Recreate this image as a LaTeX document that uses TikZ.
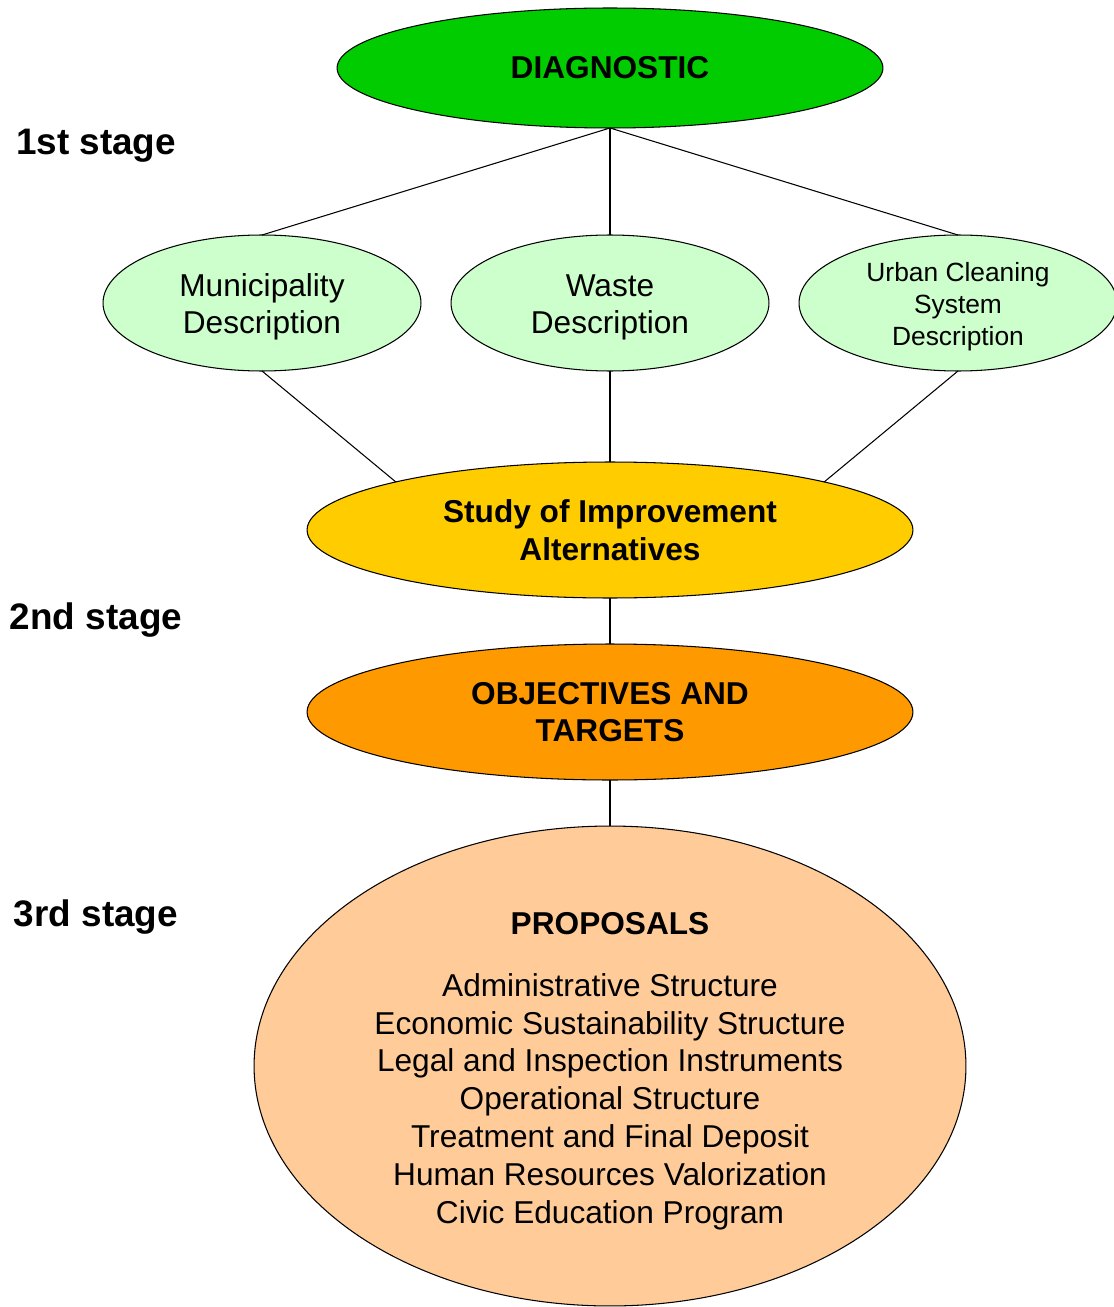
\documentclass[tikz,border=0pt]{standalone}
\usepackage{fontspec}
\setmainfont{Liberation Sans}
\usetikzlibrary{shapes.geometric}
\definecolor{diaggreen}{HTML}{00CC00}
\definecolor{descgreen}{HTML}{CCFFCC}
\definecolor{studyyellow}{HTML}{FFCC00}
\definecolor{objorange}{HTML}{FF9900}
\definecolor{proppeach}{HTML}{FFCC99}
\newcommand\txtlift[1][17.5pt]{\rule{0pt}{#1}}
\tikzset{
  stage/.style={draw=none,rectangle,font=\fontsize{21}{25}\selectfont\bfseries},
  desc/.style={fill=descgreen,minimum width=6.36cm,minimum height=2.72cm},
  wide/.style={minimum width=12.12cm,minimum height=2.72cm,font=\fontsize{18}{21.5}\selectfont\bfseries}
}

\begin{document}
\begin{tikzpicture}
  [x=0.02cm,y=-0.02cm,every node/.style={ellipse,draw,line width=0.6pt,inner sep=0pt,outer sep=0pt,align=center,font=\fontsize{18}{21.5}\selectfont}]
  \useasboundingbox (0,0) rectangle (1114,1307);

  \node[fill=diaggreen,minimum width=10.92cm,minimum height=2.4cm,font=\fontsize{18}{21.5}\selectfont\bfseries] (n1) at (610,68) {DIAGNOSTIC};
  \node[desc] (n2) at (262,303) {\txtlift Municipality\\Description};
  \node[desc] (n3) at (610,303) {\txtlift Waste\\Description};
  \node[desc,font=\fontsize{15}{18}\selectfont] (n4) at (958,303) {\txtlift[15pt]Urban Cleaning\\System\\Description};
  \node[wide,fill=studyyellow] (n5) at (610,530) {Study of Improvement\\Alternatives};
  \node[wide,fill=objorange] (n6) at (610,712) {OBJECTIVES AND\\TARGETS};
  \node[fill=proppeach,minimum width=14.24cm,minimum height=9.6cm] (n7) at (610,1066)
    {\txtlift[18pt]\textbf{PROPOSALS}\\[14pt]Administrative Structure\\Economic Sustainability Structure\\Legal and Inspection Instruments\\Operational Structure\\Treatment and Final Deposit\\Human Resources Valorization\\Civic Education Program};

  \node[stage] (s1) at (96,146) {1st stage};
  \node[stage] (s2) at (96,620) {2nd stage};
  \node[stage] (s3) at (96,917) {3rd stage};

  \foreach \from/\to in {n1.south/n2.north,n1.south/n3.north,n1.south/n4.north,
                         n2.south/n5.north west,n3.south/n5.north,n4.south/n5.north east,
                         n5.south/n6.north,n6.south/n7.north}
    \draw[line width=0.6pt] (\from) -- (\to);
\end{tikzpicture}
\end{document}
